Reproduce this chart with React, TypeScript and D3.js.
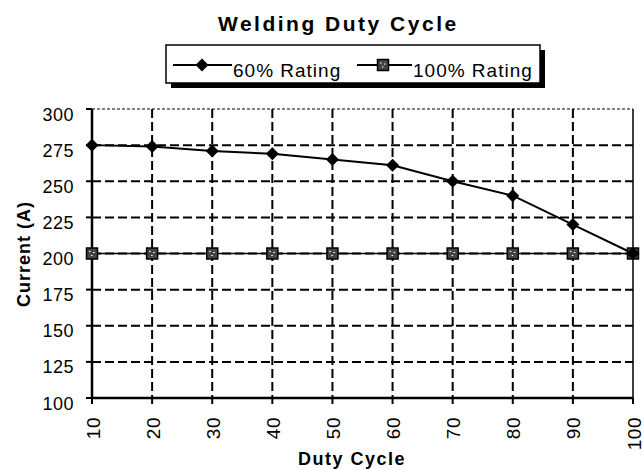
import React from "react";
import * as d3 from "d3";

const dutyCycle = [10, 20, 30, 40, 50, 60, 70, 80, 90, 100];
const rating60 = [275, 274, 271, 269, 265, 261, 250, 240, 220, 200];
const rating100 = [200, 200, 200, 200, 200, 200, 200, 200, 200, 200];
const yTicks = [100, 125, 150, 175, 200, 225, 250, 275, 300];
const seriesNames = ["60% Rating", "100% Rating"];

const W = 643, H = 470;
const L = 92, R = 633, T = 109, B = 398;
const FONT = "Arial, 'Liberation Sans', sans-serif";

export default function App() {
  const x = d3.scaleLinear().domain([10, 100]).range([L, R]);
  const y = d3.scaleLinear().domain([100, 300]).range([B, T]);
  const line = d3.line<number>().x((_, i) => x(dutyCycle[i])).y((d) => y(d));

  const diamond = (cx: number, cy: number, k: string) => (
    <path key={k} d={`M${cx},${cy - 6.5}L${cx + 6.5},${cy}L${cx},${cy + 6.5}L${cx - 6.5},${cy}Z`} fill="#000" />
  );
  const square = (cx: number, cy: number, k: string) => (
    <g key={k}>
      <rect x={cx - 5.5} y={cy - 5.5} width={11} height={11} fill="#444" stroke="#000" strokeWidth={1.5} />
      <path d={`M${cx - 3},${cy - 2}h1.5M${cx + 1},${cy - 1}h1.5M${cx - 1},${cy + 2}h1.5`} stroke="#fff" strokeWidth={1.2} />
    </g>
  );

  const legY = 65;
  return (
    <svg width={W} height={H} style={{ position: "absolute", left: 0, top: 0 }} fontFamily={FONT}>
      <rect width={W} height={H} fill="#fff" />
      <text x={218} y={31} fontSize={21} fontWeight="bold" letterSpacing={2.5}>Welding Duty Cycle</text>

      {/* legend */}
      <rect x={171} y={50} width={374} height={38} fill="#000" />
      <rect x={166} y={45} width={374} height={38} fill="#fff" stroke="#000" strokeWidth={1.5} />
      <line x1={173} x2={232} y1={legY} y2={legY} stroke="#000" strokeWidth={2} />
      {diamond(202, legY, "ld")}
      <text x={233} y={77} fontSize={19} letterSpacing={1}>{seriesNames[0]}</text>
      <line x1={357} x2={412} y1={legY} y2={legY} stroke="#000" strokeWidth={2} />
      {square(383, legY, "ls")}
      <text x={413} y={77} fontSize={19} letterSpacing={1}>{seriesNames[1]}</text>

      {/* grid */}
      {yTicks.slice(1, -1).map((t) => (
        <line key={"gy" + t} x1={L} x2={R} y1={y(t)} y2={y(t)} stroke="#000" strokeWidth={2} strokeDasharray="9,4" />
      ))}
      {dutyCycle.slice(1, -1).map((t) => (
        <line key={"gx" + t} x1={x(t)} x2={x(t)} y1={T} y2={B} stroke="#000" strokeWidth={2} strokeDasharray="9,4" />
      ))}
      <line x1={L} x2={R} y1={T} y2={T} stroke="#000" strokeWidth={1} strokeDasharray="3,2" />
      <line x1={R} x2={R} y1={T} y2={B} stroke="#000" strokeWidth={1.5} />

      {/* axes */}
      <line x1={L} x2={L} y1={T} y2={B} stroke="#000" strokeWidth={2.5} />
      <line x1={L} x2={R} y1={B} y2={B} stroke="#000" strokeWidth={2.5} />
      {yTicks.map((t) => (
        <g key={"yt" + t}>
          <line x1={L - 6} x2={L} y1={y(t)} y2={y(t)} stroke="#000" strokeWidth={2} />
          <text x={L - 18} y={y(t) + 11.5} textAnchor="end" fontSize={18} letterSpacing={0.5}>{t}</text>
        </g>
      ))}
      {dutyCycle.map((t) => (
        <g key={"xt" + t}>
          <line x1={x(t)} x2={x(t)} y1={B} y2={B + 6} stroke="#000" strokeWidth={2} />
          <text transform={`translate(${x(t) + 7.5},${B + 19}) rotate(-90)`} textAnchor="end" fontSize={19} letterSpacing={0.5}>{t}</text>
        </g>
      ))}
      <text x={298} y={465} fontSize={18} fontWeight="bold" letterSpacing={1.5}>Duty Cycle</text>
      <text transform={`translate(30,254) rotate(-90)`} textAnchor="middle" fontSize={18} fontWeight="bold" letterSpacing={1}>Current (A)</text>

      {/* series */}
      <path d={line(rating100) || ""} fill="none" stroke="#000" strokeWidth={1.5} />
      <path d={line(rating60) || ""} fill="none" stroke="#000" strokeWidth={2} />
      {rating100.map((v, i) => square(x(dutyCycle[i]), y(v), "s" + i))}
      {rating60.map((v, i) => diamond(x(dutyCycle[i]), y(v), "d" + i))}
    </svg>
  );
}
